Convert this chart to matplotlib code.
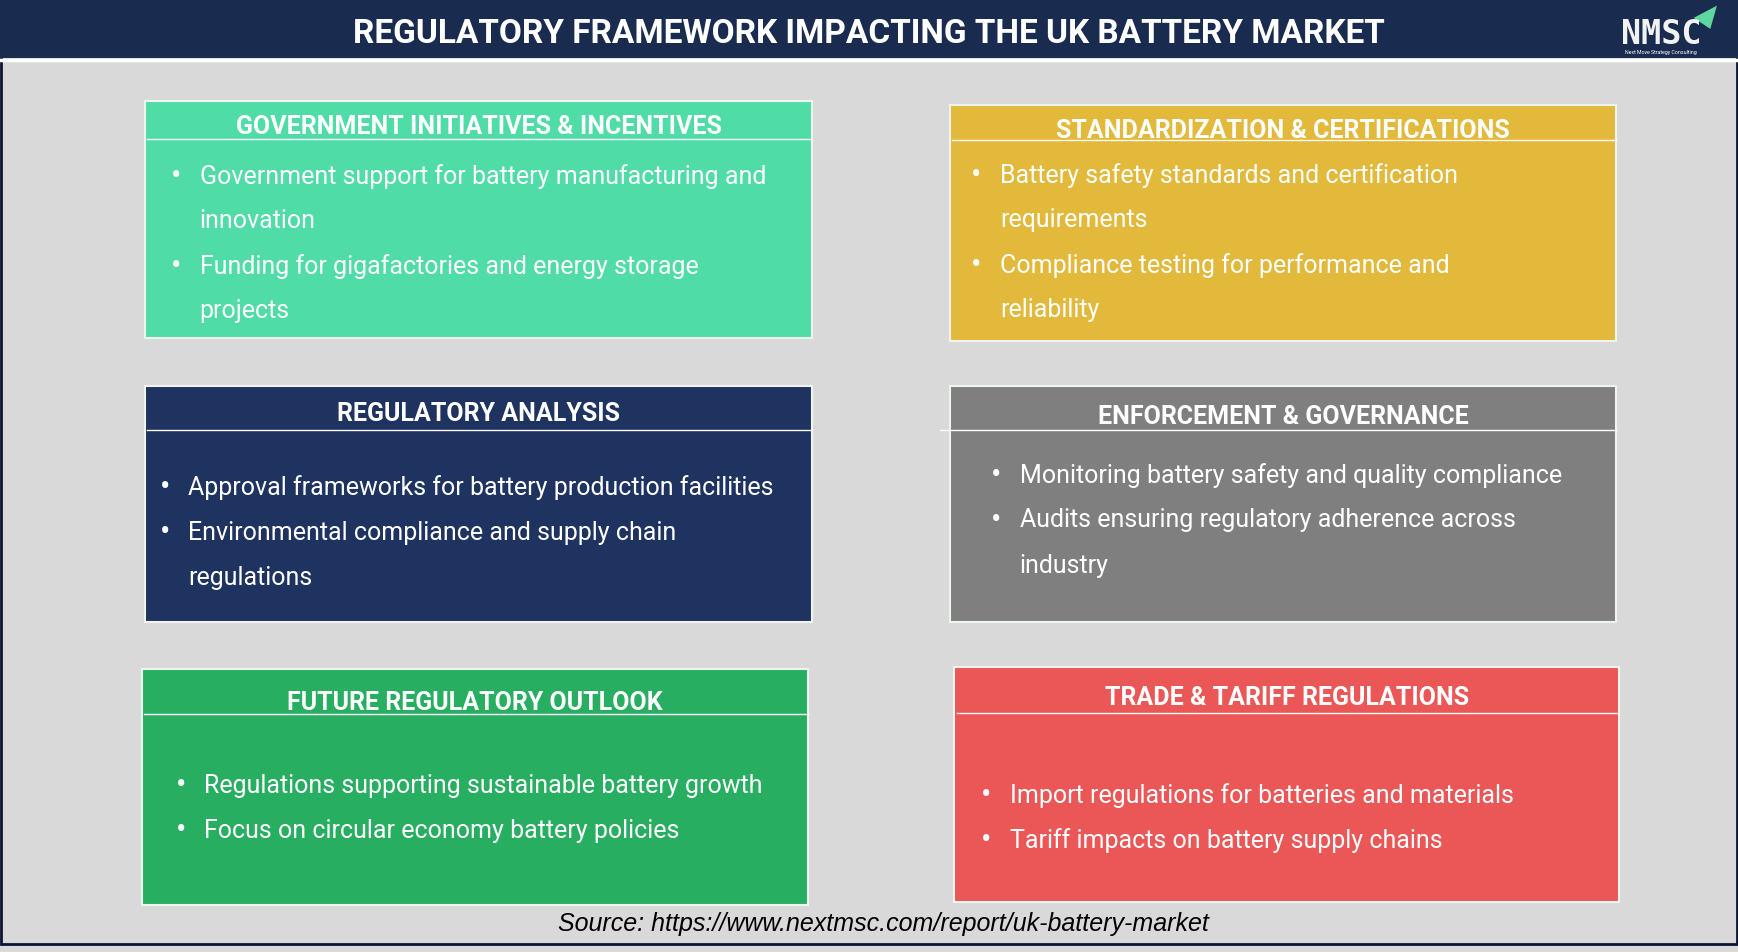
import matplotlib.pyplot as plt
from matplotlib.patches import Rectangle, Polygon

plt.rcParams['font.family'] = ['Roboto', 'DejaVu Sans']

# data
title = "REGULATORY FRAMEWORK IMPACTING THE UK BATTERY MARKET"
source = "Source: https://www.nextmsc.com/report/uk-battery-market"

headers = [
    "GOVERNMENT INITIATIVES & INCENTIVES",
    "STANDARDIZATION & CERTIFICATIONS",
    "REGULATORY ANALYSIS",
    "ENFORCEMENT & GOVERNANCE",
    "FUTURE REGULATORY OUTLOOK",
    "TRADE & TARIFF REGULATIONS",
]
bullets = [
    ["Government support for battery manufacturing and\ninnovation",
     "Funding for gigafactories and energy storage\nprojects"],
    ["Battery safety standards and certification\nrequirements",
     "Compliance testing for performance and\nreliability"],
    ["Approval frameworks for battery production facilities",
     "Environmental compliance and supply chain\nregulations"],
    ["Monitoring battery safety and quality compliance",
     "Audits ensuring regulatory adherence across\nindustry"],
    ["Regulations supporting sustainable battery growth",
     "Focus on circular economy battery policies"],
    ["Import regulations for batteries and materials",
     "Tariff impacts on battery supply chains"],
]
colors = ["#50dca7", "#e2b93b", "#1f3360", "#7f7f7f", "#27ae60", "#eb5757"]

# layout (pixel-like coordinates, y down)
boxes = [  # x0, y0, x1, y1
    (131, 92, 733, 306),
    (857, 96, 1458, 309),
    (131, 349, 733, 562),
    (857, 349, 1458, 562),
    (128, 605, 729, 818),
    (861, 603, 1461, 815),
]
header_y = [115, 118, 374, 376, 634, 630]
line_y = [126, 127, 389, 389, 645, 644]
bullet_x = [159, 881, 149, 899, 163, 890]
first_y = [159, 158, 440, 429, 709, 718]
step = 40.7

W, H = 1568, 860
fig = plt.figure(figsize=(17.38, 9.53), dpi=100)
ax = fig.add_axes([0, 0, 1, 1])
ax.set_xlim(0, W)
ax.set_ylim(H, 0)
ax.axis("off")

ax.add_patch(Rectangle((0, 0), W, H, facecolor="#d9d9d9", edgecolor="none"))
ax.add_patch(Rectangle((1, 1), W - 2, 852, facecolor="none", edgecolor="#0b1530", lw=2))
ax.add_patch(Rectangle((0, 0), W, 53, facecolor="#1a2b50", edgecolor="none"))
ax.plot([0, W], [55, 55], color="white", lw=2.5)
ax.text(784, 31, title, color="white", fontsize=24, fontweight="bold",
        ha="center", va="center")

# logo
ax.text(1499, 31, "NMSC", color="#f2f2f2", fontsize=24, fontweight="bold",
        ha="center", va="center", family="DejaVu Sans Mono")
ax.add_patch(Polygon([[1528, 17], [1549, 6], [1543, 27]], closed=True,
                     facecolor="#5fd6a0", edgecolor="none"))
ax.text(1498, 47, "Next Move Strategy Consulting", color="white", fontsize=3.8,
        ha="center", va="center")

for i in range(6):
    x0, y0, x1, y1 = boxes[i]
    ax.add_patch(Rectangle((x0, y0), x1 - x0, y1 - y0, facecolor=colors[i],
                           edgecolor="#eef5ef", lw=1.5))
    cx = (x0 + x1) / 2
    ax.text(cx, header_y[i], headers[i], color="white", fontsize=18,
            fontweight="bold", ha="center", va="center")
    lx0 = x0 + 2 if i != 3 else x0 - 9
    ax.plot([lx0, x1], [line_y[i], line_y[i]], color="white", lw=1)
    y = first_y[i]
    for b in bullets[i]:
        lines = b.split("\n")
        ax.text(bullet_x[i], y, "\u2022", color="white", fontsize=22,
                ha="center", va="center")
        for ln in lines:
            ax.text(bullet_x[i] + 21, y, ln, color="white", fontsize=18,
                    ha="left", va="center")
            y += step

ax.text(797, 834, source, color="black", fontsize=18, style="italic",
        ha="center", va="center",
        family=["Liberation Sans Narrow", "Liberation Sans", "DejaVu Sans"])

fig.savefig("out.png", dpi=100)
